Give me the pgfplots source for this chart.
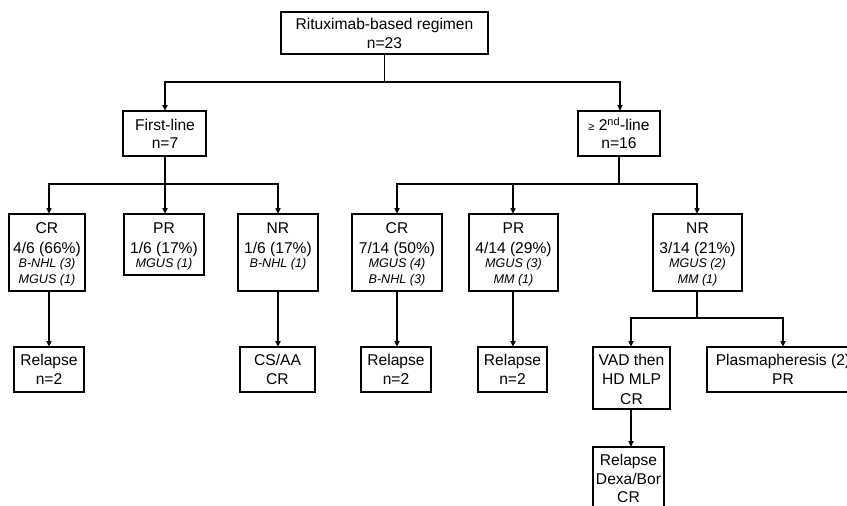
\documentclass[border=0pt]{standalone}
\usepackage{fontspec}
\setmainfont{Liberation Sans}
\usepackage{pgfplots}
\pgfplotsset{compat=1.18}
\usetikzlibrary{arrows.meta}

% one text line, baseline at (x,y) in pixel units
\newcommand{\tx}[3]{\node[anchor=base,inner sep=0pt,font=\fontsize{15.6}{18}\selectfont] at (axis cs:#1,#2) {#3};}
\newcommand{\ti}[3]{\node[anchor=base,inner sep=0pt,font=\fontsize{12.6}{15}\selectfont\itshape] at (axis cs:#1,#2) {#3};}

\begin{document}
\begin{tikzpicture}
\begin{axis}[
  scale only axis, width=847pt, height=506pt,
  xmin=0, xmax=847, ymin=0, ymax=506, y dir=reverse,
  hide axis,
  box/.style={black, line width=1.9pt, line cap=rect, line join=miter, mark=none},
  link/.style={black, line width=1.9pt, mark=none},
  tip/.style={-{Triangle[length=6pt,width=5pt]}},
  tips/.style={{Triangle[length=6pt,width=5pt]}-{Triangle[length=6pt,width=5pt]}},
]
% boxes
\addplot[box] coordinates {(281,12) (488,12) (488,54) (281,54) (281,12)};
\addplot[box] coordinates {(123,111) (206,111) (206,156) (123,156) (123,111)};
\addplot[box] coordinates {(578,111) (660,111) (660,156) (578,156) (578,111)};
\addplot[box] coordinates {(9,214) (85,214) (85,291) (9,291) (9,214)};
\addplot[box] coordinates {(124,214) (204,214) (204,275) (124,275) (124,214)};
\addplot[box] coordinates {(238,214) (318,214) (318,291) (238,291) (238,214)};
\addplot[box] coordinates {(352,214) (442,214) (442,291) (352,291) (352,214)};
\addplot[box] coordinates {(469,214) (558,214) (558,291) (469,291) (469,214)};
\addplot[box] coordinates {(653,214) (742,214) (742,291) (653,291) (653,214)};
\addplot[box] coordinates {(14,347) (84,347) (84,392) (14,392) (14,347)};
\addplot[box] coordinates {(240,347) (315,347) (315,392) (240,392) (240,347)};
\addplot[box] coordinates {(361,347) (431,347) (431,392) (361,392) (361,347)};
\addplot[box] coordinates {(478,347) (547,347) (547,392) (478,392) (478,347)};
\addplot[box] coordinates {(593,347) (670,347) (670,409) (593,409) (593,347)};
\addplot[box] coordinates {(707,347) (858,347) (858,392) (707,392) (707,347)};
\addplot[box] coordinates {(593,447) (664,447) (664,530) (593,530) (593,447)};

% connectors
\addplot[link] coordinates {(384.5,54) (384.5,82)};
\addplot[link,tips] coordinates {(165,111) (165,82) (620,82) (620,111)};
\addplot[link,tip] coordinates {(165,156) (165,214)};
\addplot[link,tips] coordinates {(49,214) (49,184) (278,184) (278,214)};
\addplot[link] coordinates {(619,156) (619,184)};
\addplot[link,tips] coordinates {(397,214) (397,184) (697,184) (697,214)};
\addplot[link,tip] coordinates {(513,184) (513,214)};
\addplot[link,tip] coordinates {(49,291) (49,347)};
\addplot[link,tip] coordinates {(278,291) (278,347)};
\addplot[link,tip] coordinates {(397,291) (397,347)};
\addplot[link,tip] coordinates {(513,291) (513,347)};
\addplot[link] coordinates {(697,291) (697,318)};
\addplot[link,tips] coordinates {(631,347) (631,318) (783,318) (783,347)};
\addplot[link,tip] coordinates {(631,409) (631,447)};

% texts
\tx{384.5}{29.4}{Rituximab-based regimen}
\tx{384.5}{48.4}{n=23}
\tx{165}{130.4}{First-line}
\tx{165}{148.4}{n=7}
\tx{619}{130.4}{{\fontsize{11}{13}\selectfont≥} 2\textsuperscript{nd}-line}
\tx{619}{148.4}{n=16}

\tx{47}{233.4}{CR}
\tx{47}{253.4}{4/6 (66\%)}
\ti{47}{267.5}{B-NHL (3)}
\ti{47}{283.5}{MGUS (1)}

\tx{164}{233.4}{PR}
\tx{164}{253.4}{1/6 (17\%)}
\ti{164}{267.5}{MGUS (1)}

\tx{278}{233.4}{NR}
\tx{278}{253.4}{1/6 (17\%)}
\ti{278}{267.5}{B-NHL (1)}

\tx{397}{233.4}{CR}
\tx{397}{253.4}{7/14 (50\%)}
\ti{397}{267.5}{MGUS (4)}
\ti{397}{283.5}{B-NHL (3)}

\tx{513.5}{233.4}{PR}
\tx{513.5}{253.4}{4/14 (29\%)}
\ti{513.5}{267.5}{MGUS (3)}
\ti{513.5}{283.5}{MM (1)}

\tx{697.5}{233.4}{NR}
\tx{697.5}{253.4}{3/14 (21\%)}
\ti{697.5}{267.5}{MGUS (2)}
\ti{697.5}{283.5}{MM (1)}

\tx{49}{365.4}{Relapse}
\tx{49}{384.4}{n=2}
\tx{277.5}{365.4}{CS/AA}
\tx{277.5}{384.4}{CR}
\tx{396}{365.4}{Relapse}
\tx{396}{384.4}{n=2}
\tx{512.5}{365.4}{Relapse}
\tx{512.5}{384.4}{n=2}
\tx{631.5}{365.4}{VAD then}
\tx{631.5}{384.4}{HD MLP}
\tx{631.5}{404.4}{CR}
\tx{783}{365.4}{Plasmapheresis (2)}
\tx{783}{384.4}{PR}
\tx{628.5}{465.4}{Relapse}
\tx{628.5}{484.4}{Dexa/Bor}
\tx{628.5}{502.4}{CR}
\end{axis}
\pgfresetboundingbox
\path[use as bounding box] (current axis.south west) rectangle (current axis.north east);
\end{tikzpicture}
\end{document}
